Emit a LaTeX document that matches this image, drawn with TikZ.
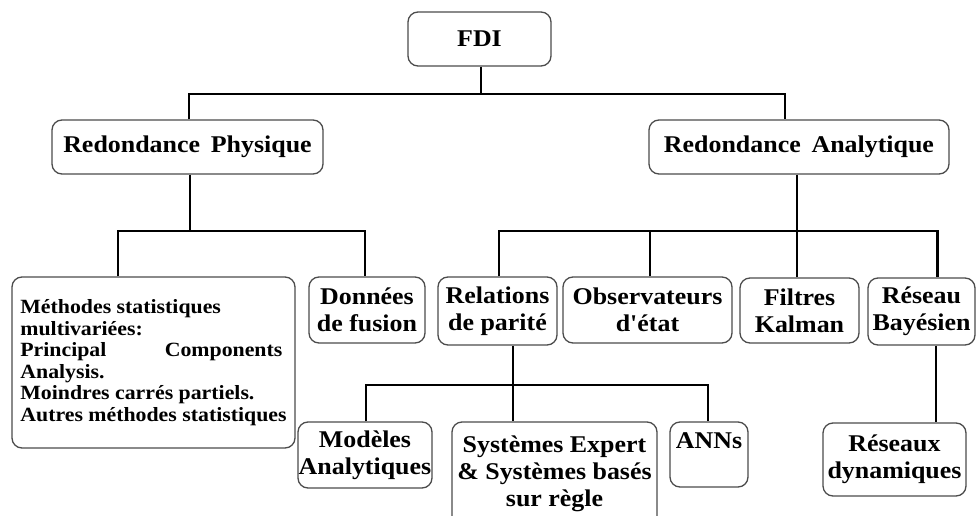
\documentclass[tikz,border=0pt]{standalone}
\usepackage{fontspec}
\setmainfont{Liberation Serif}[FakeStretch=1.08]
\newfontfamily\plainserif{Liberation Serif}[FakeStretch=1.08]
\newcommand{\sq}{{\plainserif\bfseries '}}
\begin{document}
\begin{tikzpicture}[x=1pt,y=-1pt,
  box/.style={draw=black!70, line width=1.3pt, rounded corners=10pt, fill=white,
    align=center, inner sep=0pt, font=\fontsize{24}{27}\selectfont\bfseries},
  conn/.style={line width=2.2pt, black}]
\useasboundingbox[fill=white] (0,0) rectangle (977,516);
% level 0
\node[box, minimum width=143, minimum height=54] (fdi) at (479.5,39) {FDI};
% level 1
\node[box, minimum width=271, minimum height=54] (rp) at (187.5,147) {Redondance\hspace{0.45em}Physique};
\node[box, minimum width=300, minimum height=54] (ra) at (799,147) {Redondance\hspace{0.45em}Analytique};
% level 2
\node[box, minimum width=283, minimum height=171, align=left,
  font=\fontsize{20.2}{21.5}\selectfont\bfseries] (meth) at (153.5,362.5)
  {Méthodes statistiques\\
   multivariées:\\
   \makebox[262pt][s]{Principal Components}\\
   Analysis.\\
   Moindres carrés partiels.\\
   Autres méthodes statistiques};
\node[box, minimum width=116, minimum height=66] (don) at (367,310) {Données\\de fusion};
\node[box, minimum width=119, minimum height=68] (rel) at (497.5,311) {Relations\\de parité};
\node[box, minimum width=169, minimum height=66] (obs) at (647.5,310) {Observateurs\\d\sq état};
\node[box, minimum width=119, minimum height=65] (fil) at (799.5,310.5) {Filtres\\Kalman};
\node[box, minimum width=107, minimum height=67] (bay) at (921.5,311.5) {Réseau\\Bayésien};
% level 3
\node[box, minimum width=134, minimum height=66] (mod) at (365,455) {Modèles\\Analytiques};
\node[box, minimum width=205, minimum height=104] (sys) at (554.5,474) {Systèmes Expert\\\&~Systèmes basés\\sur règle};
\node[box, minimum width=78, minimum height=65] (ann) at (709,454.5) {ANNs\\\mbox{}};
\node[box, minimum width=143, minimum height=73] (dyn) at (894.5,459.5) {Réseaux\\dynamiques};
% junctions
\coordinate (b1) at (481,94);
\coordinate (b2) at (190,231);
\coordinate (b3) at (797,231);
\coordinate (b4) at (513,385);
% connectors
\draw[conn] (fdi.south -| b1) -- (b1);
\draw[conn] ([xshift=1.5]rp.north) |- (b1) -| ([xshift=-14]ra.north);
\draw[conn] (rp.south -| b2) -- (b2);
\draw[conn] ([xshift=-35.5]meth.north) |- (b2) -| ([xshift=-2]don.north);
\draw[conn] (ra.south -| b3) -- (b3);
\draw[conn] ([xshift=1.5]rel.north) |- (b3) -| ([xshift=16]bay.north);
\draw[conn] ([xshift=2.5]obs.north) -- ([xshift=2.5]obs.north |- b3);
\draw[conn] (fil.north -| b3) -- (b3);
\draw[conn] (rel.south -| b4) -- (b4) -- (sys.north -| b4);
\draw[conn] ([xshift=1]mod.north) |- (b4) -| ([xshift=-1]ann.north);
\draw[conn] ([xshift=14.5]bay.south) -- ([xshift=41.5]dyn.north);
\end{tikzpicture}
\end{document}
